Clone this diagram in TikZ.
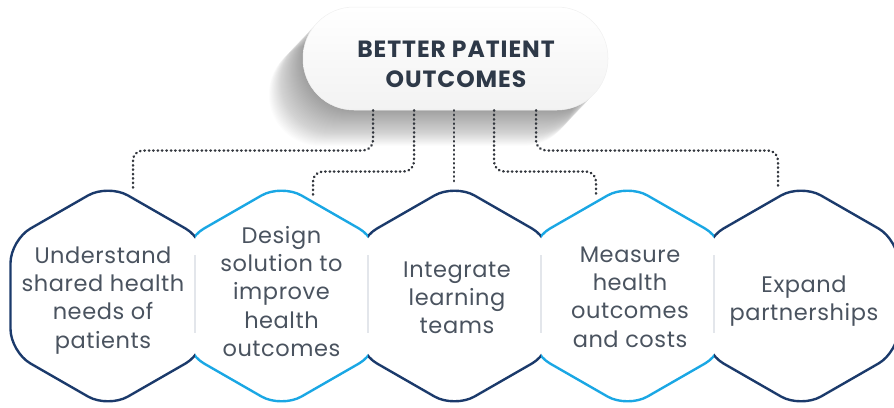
\documentclass[tikz,border=0pt]{standalone}
\usepackage{fontspec}
\setmainfont{Poppins}
\usetikzlibrary{calc}
\definecolor{navy}{HTML}{1B3A6B}
\definecolor{sky}{HTML}{1AA7E4}
\definecolor{txt}{HTML}{4A535F}
\definecolor{ttl}{HTML}{2E3948}
\definecolor{sepgray}{HTML}{E3E6EB}
\definecolor{dotgray}{HTML}{33373E}
\newcommand\hexat[1]{(#1-97.5,296) -- (#1-97.5,240) -- (#1,184) -- (#1+97.5,240) -- (#1+97.5,352) -- (#1,408) -- (#1-97.5,352) -- cycle}
\tikzset{
  hexline/.style={line width=2.4pt, rounded corners=23pt},
  hexnavy/.style={hexline, draw=navy},
  hexsky/.style={hexline, draw=sky},
  hextext/.style={align=center, text=txt, inner sep=0pt, anchor=north,
    font=\fontsize{22.5}{28.3}\selectfont\addfontfeatures{LetterSpace=2.5}},
  conn/.style={draw=dotgray, line width=2.5pt, dash pattern=on 0.5pt off 3.9pt,
    line cap=round, rounded corners=10pt},
  sepline/.style={draw=sepgray, line width=2.4pt},
  pill/.style={rounded corners=51pt, minimum width=305pt, minimum height=103pt,
    inner sep=0pt, top color=white, bottom color=black!5, draw=black!6, line width=0.5pt},
  titletext/.style={align=center, text=ttl, inner sep=0pt, anchor=north,
    font=\bfseries\fontsize{23.5}{30}\selectfont\addfontfeatures{LetterSpace=4}}
}
\newcommand\firstline{\rule{0pt}{17pt}}
\begin{document}
\begin{tikzpicture}[x=1pt,y=-1pt]
\useasboundingbox (0,0) rectangle (894,407);
% cast shadow of the top pill
\foreach \k in {1,...,40}{
  \fill[black, fill opacity=0.0105, rounded corners=51pt] (303-0.85*\k,7+0.9*\k) rectangle ++(305,103);
}
% top pill
\node[pill] (top) at (455.5,58.5) {};
\node[titletext] (title) at (456,57-17) {\firstline BETTER PATIENT\\OUTCOMES};
% connector anchors
\coordinate (p1) at ($(top.south)+(-82.5,0)$);
\coordinate (p2) at ($(top.south)+(-41.5,0)$);
\coordinate (p3) at ($(top.south)+(-1.5,0)$);
\coordinate (p4) at ($(top.south)+(38.5,0)$);
\coordinate (p5) at ($(top.south)+(80.5,0)$);
\coordinate (yA) at (0,150.5);
\coordinate (yB) at (0,171.5);
\coordinate (e1) at (133,189);
\coordinate (e2) at (313,196);
\coordinate (e3) at (454,184);
\coordinate (e4) at (596,196);
\coordinate (e5) at (778,189);
\draw[conn] (p1) -- (p1 |- yA) -- (e1 |- yA) -- (e1);
\draw[conn] (p2) -- (p2 |- yB) -- (e2 |- yB) -- (e2);
\draw[conn] (p3) -- (e3);
\draw[conn] (p4) -- (p4 |- yB) -- (e4 |- yB) -- (e4);
\draw[conn] (p5) -- (p5 |- yA) -- (e5 |- yA) -- (e5);
% hexagons, each clipped to its own strip
\begin{scope}\clip (-20,150) rectangle (195,420); \draw[hexnavy] \hexat{108}; \end{scope}
\begin{scope}\clip (195,150) rectangle (368,420); \draw[hexsky] \hexat{281.5}; \end{scope}
\begin{scope}\clip (368,150) rectangle (541,420); \draw[hexnavy] \hexat{454.5}; \end{scope}
\begin{scope}\clip (541,150) rectangle (714,420); \draw[hexsky] \hexat{627.5}; \end{scope}
\begin{scope}\clip (714,150) rectangle (920,420); \draw[hexnavy] \hexat{801}; \end{scope}
% separators
\draw[sepline] (195,255) -- (195,333);
\draw[sepline] (368,255) -- (368,333);
\draw[sepline] (541,255) -- (541,333);
\draw[sepline] (714,255) -- (714,333);
% texts
\node[hextext] (h1) at (103,263-17) {\firstline Understand\\shared health\\needs of\\patients};
\node[hextext] (h2) at (281.5,243-17) {\firstline Design\\solution to\\improve\\health\\outcomes};
\node[hextext] (h3) at (457,277-17) {\firstline Integrate\\learning\\teams};
\node[hextext] (h4) at (630,262-17) {\firstline Measure\\health\\outcomes\\and costs};
\node[hextext] (h5) at (804,292-17) {\firstline Expand\\partnerships};
\end{tikzpicture}
\end{document}
